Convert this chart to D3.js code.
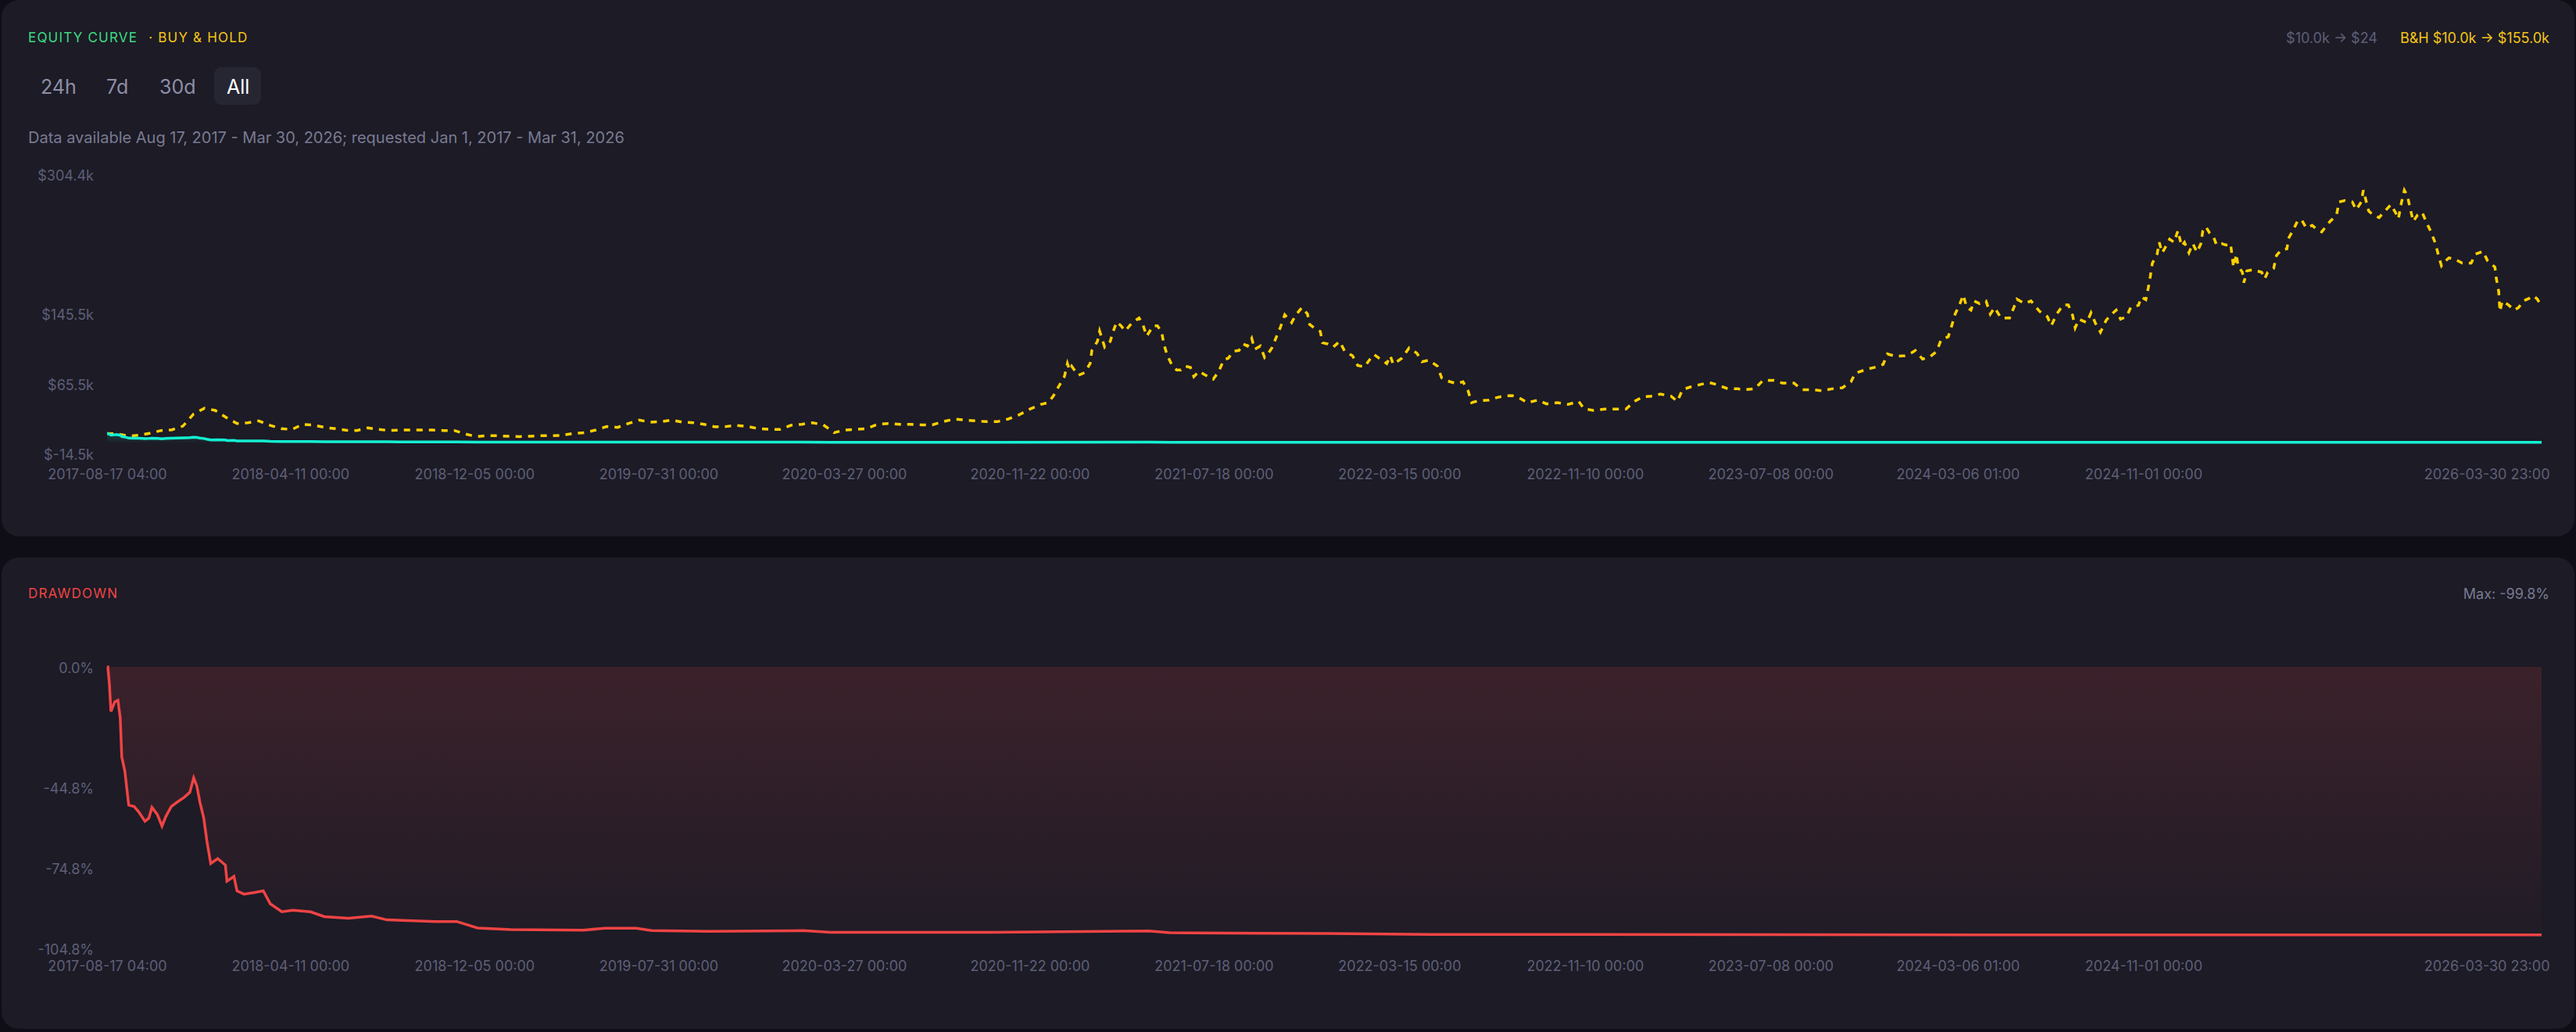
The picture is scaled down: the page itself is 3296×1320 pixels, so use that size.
<!DOCTYPE html>
<html>
<head>
<meta charset="utf-8">
<script src="https://cdn.jsdelivr.net/npm/d3@7"></script>
<style>
  html, body { margin: 0; padding: 0; background: #0f0e17; }
  svg { display: block; font-family: Inter, "Noto Sans", sans-serif; }
</style>
</head>
<body>
<svg id="chart"></svg>
<script>
// ---- data ----
const startTime = "2017-08-17 04:00";
const endTime = "2026-03-30 23:00";

const xTickLabels = [
  "2017-08-17 04:00", "2018-04-11 00:00", "2018-12-05 00:00", "2019-07-31 00:00",
  "2020-03-27 00:00", "2020-11-22 00:00", "2021-07-18 00:00", "2022-03-15 00:00",
  "2022-11-10 00:00", "2023-07-08 00:00", "2024-03-06 01:00", "2024-11-01 00:00",
  "2026-03-30 23:00"
];
const equityTicks = [304.4, 145.5, 65.5, -14.5];   // $k
const drawdownTicks = [0, -44.8, -74.8, -104.8];   // %
const rangeButtons = ["24h", "7d", "30d", "All"];

// buy & hold: days since startTime, value in $k
const bhDays = [
  0, 14, 28, 42, 56, 70, 84, 98, 112, 126,
  140, 154, 168, 182, 196, 211, 225, 239, 253, 267,
  281, 295, 309, 323, 337, 351, 365, 379, 393, 407,
  421, 435, 449, 463, 477, 491, 505, 519, 533, 547,
  561, 575, 589, 603, 618, 632, 646, 660, 674, 688,
  702, 716, 730, 744, 758, 772, 786, 800, 814, 828,
  842, 856, 870, 884, 898, 912, 926, 940, 954, 968,
  982, 996, 1010, 1025, 1039, 1053, 1067, 1081, 1095, 1109,
  1123, 1137, 1151, 1165, 1179, 1193, 1207,
  1216.8, 1223.4, 1230.6, 1237.8, 1241.7, 1244.5, 1247.2, 1255.6, 1263.9, 1271.1,
  1273.3, 1280.5, 1283.3, 1289.9, 1297.1, 1299.9, 1305.4, 1311.0, 1316.5, 1324.8,
  1334.3, 1338.7, 1344.2, 1352.6, 1358.1, 1363.6, 1366.4, 1370.9, 1376.4, 1383.0,
  1388.6, 1394.1, 1400.8, 1405.2, 1411.9, 1419.1, 1430.2, 1437.4, 1444.0, 1449.6,
  1456.2, 1463.4, 1469.0, 1474.5, 1480.0, 1483.9, 1491.1, 1496.7, 1500.5, 1506.1,
  1511.6, 1517.2, 1522.7, 1531.6, 1537.1, 1544.9, 1552.1, 1554.9, 1561.5, 1568.7,
  1571.5, 1578.2, 1585.4, 1593.7, 1600.3, 1610.3, 1617.0, 1625.8, 1632.5, 1638.0,
  1646.3, 1654.6, 1659.1, 1663.0, 1674.0, 1683.5, 1693.5, 1700.1, 1709.0, 1720.1,
  1725.6,
  1731.0, 1744.9, 1753.2, 1759.8, 1764.3, 1772.6, 1786.4, 1797.5, 1805.8, 1816.9,
  1828.0, 1836.3, 1850.2, 1861.3, 1875.1, 1889.0, 1902.8, 1909.5, 1922.2, 1936.1,
  1949.9, 1963.8, 1974.9, 1986.0, 1999.9, 2008.2, 2022.0, 2030.3, 2037.0, 2047.0,
  2060.8, 2071.9, 2080.2, 2094.1, 2107.9, 2119.0, 2130.1, 2141.2, 2155.0, 2166.1,
  2181.1, 2191.1, 2204.9, 2217.7, 2229.9, 2243.7, 2254.8, 2260.4, 2274.2, 2285.3,
  2296.4, 2301.9, 2313.0, 2324.1, 2332.4, 2338.0, 2347.4, 2357.4, 2365.7, 2371.2,
  2380.6, 2385.1, 2389.5, 2395.1, 2400.0, 2404.5, 2410.0, 2413.9, 2421.1, 2429.4,
  2435.0, 2440.5, 2448.8, 2459.9, 2465.4, 2469.3, 2479.3, 2487.6, 2498.7, 2508.7,
  2513.7, 2520.9, 2529.2, 2535.8, 2541.4, 2544.7, 2549.7, 2559.7, 2565.2, 2570.8,
  2577.4, 2584.6, 2590.2,
  2597.7, 2603.4, 2611.1, 2616.9, 2626.5, 2630.3, 2636.1, 2639.2, 2641.9, 2644.5,
  2650.7, 2653.4, 2657.2, 2661.1, 2666.8, 2672.6, 2677.6, 2682.2, 2686.0, 2691.8,
  2696.8, 2702.2, 2707.2, 2709.8, 2713.7, 2718.7, 2723.7, 2727.5, 2734.0, 2739.8,
  2745.6, 2747.5, 2749.4, 2753.2, 2755.2, 2760.9, 2762.8, 2766.7, 2774.4, 2780.1,
  2785.9, 2789.7, 2793.6, 2801.3, 2805.1, 2810.9, 2818.5, 2820.5, 2826.2, 2832.8,
  2837.7, 2843.5, 2851.2, 2856.9, 2863.5, 2874.2, 2882.7, 2885.8, 2893.4, 2903.0,
  2908.0, 2914.6, 2917.3, 2924.2, 2929.9, 2937.6, 2945.3, 2953.0, 2958.7, 2962.6,
  2966.4, 2970.3, 2974.1, 2977.9, 2981.8, 2987.5, 2993.3, 2999.1, 3004.8, 3010.6,
  3014.4, 3018.3, 3022.1, 3027.9, 3035.6, 3045.2, 3056.7, 3062.4, 3072.0, 3077.8,
  3087.4, 3089.3, 3092.4, 3093.9, 3097.0, 3104.7, 3112.4, 3118.1, 3123.9, 3131.6,
  3137.3, 3142.3, 3147.8
];
const bhValues = [
  10.0, 9.6, 7.2, 8.1, 10.5, 13.5, 14.4, 18.5, 32.5, 39.0,
  36.4, 28.4, 21.5, 22.4, 24.5, 19.4, 15.6, 14.7, 20.6, 19.7,
  17.1, 15.6, 13.8, 13.5, 16.5, 14.7, 13.5, 14.1, 14.1, 14.1,
  14.1, 13.5, 13.5, 9.6, 6.6, 7.5, 7.5, 6.9, 6.6, 6.9,
  7.5, 7.5, 8.1, 10.2, 11.1, 14.1, 18.0, 17.1, 21.5, 25.4,
  23.0, 23.6, 25.4, 23.0, 22.4, 20.6, 17.7, 18.0, 19.4, 18.2,
  15.6, 15.0, 14.7, 19.4, 20.6, 22.4, 20.0, 11.1, 14.1, 14.7,
  15.6, 20.6, 21.5, 20.6, 20.6, 20.0, 20.0, 23.6, 26.6, 25.4,
  24.5, 23.6, 23.6, 26.6, 31.3, 37.9, 43.3,
  45.3, 52.8, 64.1, 75.1, 90.0, 82.6, 87.0, 76.6, 79.6, 90.0,
  104.9, 115.3, 127.2, 108.8, 115.3, 124.3, 137.7, 133.2, 127.2, 136.2,
  142.1, 136.2, 121.3, 133.2, 133.2, 125.8, 112.4, 99.0, 89.1, 82.6,
  82.6, 87.0, 85.6, 75.1, 81.1, 77.2, 72.1, 81.1, 94.5, 96.0,
  104.0, 104.9, 112.4, 110.0, 118.9, 106.4, 110.0, 96.9, 100.4, 107.9,
  119.8, 131.7, 145.7, 136.8, 145.7, 154.0, 146.6, 134.7, 130.2, 126.6,
  113.8, 112.4, 108.8, 115.3, 104.0, 99.0, 87.9, 86.2, 94.5, 100.4,
  95.1, 90.0, 99.0, 89.1, 96.0, 107.9, 101.9, 92.1, 93.9, 87.0,
  73.6,
  70.7, 67.1, 69.2, 58.8, 45.3, 47.4, 48.3, 51.3, 52.8, 53.4,
  49.8, 45.3, 48.3, 43.9, 45.3, 43.3, 46.8, 38.5, 36.4, 37.9,
  37.9, 37.9, 46.8, 52.2, 52.8, 55.2, 52.8, 46.8, 60.2, 63.2,
  66.2, 68.3, 66.2, 61.7, 61.1, 60.2, 61.1, 70.7, 70.7, 67.7,
  67.7, 60.2, 60.2, 58.8, 61.1, 62.3, 69.2, 79.0, 83.2, 85.6,
  89.1, 101.0, 98.1, 99.0, 101.9, 104.9, 95.1, 98.1, 104.0, 116.8,
  120.7, 133.2, 146.6, 157.0, 168.3, 154.0, 151.1, 161.5, 158.5, 161.5,
  146.6, 154.0, 142.1, 142.1, 154.0, 163.6, 158.5, 161.5, 149.6, 143.6,
  133.2, 146.6, 157.0, 157.0, 145.1, 130.8, 140.6, 136.8, 148.1, 136.2,
  125.8, 139.2, 145.1,
  151.1, 140.7, 143.7, 154.7, 156.5, 166.0, 163.0, 176.4, 189.8, 204.7,
  215.1, 228.5, 216.6, 222.6, 232.1, 228.5, 241.9, 224.1, 228.5, 216.6,
  227.0, 217.2, 227.0, 241.9, 246.4, 238.9, 234.5, 225.5, 227.0, 225.5,
  227.0, 213.6, 200.2, 215.1, 201.7, 194.3, 182.4, 195.8, 197.3, 195.8,
  194.3, 186.8, 194.3, 198.7, 213.6, 219.6, 221.1, 233.0, 241.9, 253.8,
  253.8, 244.9, 247.9, 243.4, 240.4, 252.4, 259.8, 274.7, 276.2, 274.7,
  265.7, 274.7, 288.1, 264.3, 259.8, 256.8, 264.3, 271.7, 262.8, 255.3,
  273.2, 288.1, 282.1, 267.2, 252.4, 259.8, 262.8, 250.9, 240.4, 227.0,
  213.6, 201.7, 206.2, 210.7, 209.2, 204.7, 204.7, 215.1, 218.1, 207.6,
  200.2, 186.8, 171.9, 149.6, 161.5, 157.1, 151.1, 154.1, 161.5, 164.5,
  167.5, 163.6, 155.0
];

// strategy: days since startTime, drawdown %, equity $k
const ddDays = [
  0, 1, 3, 5, 10, 14, 17, 19, 23, 28,
  35, 41, 49, 54, 58, 65, 71, 76, 83, 91,
  100, 107, 112, 116, 120, 125, 129, 134, 143, 153,
  155, 164, 168, 177, 191, 202, 211, 226, 240, 263,
  281, 312, 342, 362, 425, 452, 479, 522, 616, 644,
  684, 704, 779, 900, 935, 1145, 1347, 1374, 1497, 1577,
  1713, 2590, 3147.8
];
const drawdown = [
  0, 0, -6.4, -16.6, -13.0, -12.4, -19.0, -33.5, -38.9, -51.5,
  -52.0, -54.0, -57.5, -56.3, -52.3, -55.0, -59.3, -55.7, -52.0, -50.3,
  -48.5, -46.7, -41.3, -44.3, -50.3, -56.3, -64.7, -73.2, -71.4, -73.8,
  -79.8, -78.0, -83.4, -84.6, -84.0, -83.4, -88.2, -91.2, -90.6, -91.2,
  -93.0, -93.6, -92.8, -94.2, -94.8, -94.8, -97.2, -97.8, -98.0, -97.3,
  -97.3, -98.2, -98.5, -98.2, -98.8, -98.8, -98.3, -99.0, -99.2, -99.3,
  -99.6, -99.8, -99.8
];
const equity = [
  10.0, 10.0, 9.36, 8.34, 8.70, 8.76, 8.10, 6.65, 6.11, 4.85,
  4.80, 4.60, 4.25, 4.37, 4.77, 4.50, 4.07, 4.43, 4.80, 4.97,
  5.15, 5.33, 5.87, 5.57, 4.97, 4.37, 3.53, 2.68, 2.86, 2.62,
  2.02, 2.20, 1.66, 1.54, 1.60, 1.66, 1.18, 0.88, 0.94, 0.88,
  0.70, 0.64, 0.72, 0.58, 0.52, 0.52, 0.28, 0.22, 0.20, 0.27,
  0.27, 0.18, 0.15, 0.18, 0.12, 0.12, 0.17, 0.10, 0.08, 0.07,
  0.04, 0.024, 0.024
];

// ---- layout ----
const W = 3296, H = 1320;
const plotLeft = 137, plotRight = 3252, textRight = 3262;
const colors = {
  page: "#0f0e17", card: "#1c1b26", button: "#262633",
  green: "#3ddc84", gold: "#f5c518", line: "#ffd000", cyan: "#14f0d2",
  red: "#ef4444", muted: "#5f5f78", sub: "#7a7a92", btn: "#8e8ea6"
};

const parse = d3.timeParse("%Y-%m-%d %H:%M");
const t0 = parse(startTime), t1 = parse(endTime);
const dayToDate = d => new Date(+t0 + d * 864e5);
const bhData = bhDays.map((d, i) => ({ date: dayToDate(d), value: bhValues[i] }));
const ddData = ddDays.map((d, i) => ({ date: dayToDate(d), dd: drawdown[i], eq: equity[i] }));
const tickDates = xTickLabels.map(parse);

const svg = d3.select("#chart").attr("width", W).attr("height", H);
const defs = svg.append("defs");

svg.append("rect").attr("width", W).attr("height", H).attr("fill", colors.page);
const cards = [{ y: 0, h: 686 }, { y: 713, h: 603 }];
svg.selectAll(".card").data(cards).enter().append("rect")
  .attr("class", "card")
  .attr("x", 2).attr("y", d => d.y)
  .attr("width", W - 4).attr("height", d => d.h)
  .attr("rx", 22).attr("fill", colors.card);

const x = d3.scaleTime().domain([t0, t1]).range([plotLeft, plotRight]);
const yEq = d3.scaleLinear().domain([-14.5, 304.4]).range([582, 225]);
const yDd = d3.scaleLinear().domain([-104.8, 0]).range([1213, 853]);

// ---- header texts ----
function label(txt, x0, y0, size, fill, anchor, spacing) {
  return svg.append("text").attr("x", x0).attr("y", y0)
    .attr("dominant-baseline", "central")
    .attr("text-anchor", anchor || "start")
    .attr("font-size", size).attr("fill", fill)
    .attr("letter-spacing", spacing || 0)
    .text(txt);
}

const title = svg.append("text").attr("x", 36).attr("y", 48)
  .attr("dominant-baseline", "central").attr("font-size", 17)
  .attr("letter-spacing", 1.2);
title.append("tspan").attr("fill", colors.green).text("EQUITY CURVE");
title.append("tspan").attr("fill", colors.gold).attr("dx", 14).text("· BUY & HOLD");

label("B&H $10.0k \u2192 $155.0k", textRight, 48, 18, colors.gold, "end");
label("$10.0k \u2192 $24", 3042, 48, 18, colors.muted, "end");

svg.append("rect").attr("x", 274).attr("y", 86).attr("width", 60).attr("height", 48)
  .attr("rx", 9).attr("fill", colors.button);
const btnX = [52, 136, 204, 290];
rangeButtons.forEach((b, i) => {
  label(b, btnX[i], 111, 25, b === "All" ? "#ffffff" : colors.btn);
});

label("Data available Aug 17, 2017 - Mar 30, 2026; requested Jan 1, 2017 - Mar 31, 2026",
  36, 176, 20, colors.sub);

label("DRAWDOWN", 36, 759, 17, colors.red, "start", 1.2);
label("Max: -99.8%", textRight, 759, 18, colors.sub, "end");

// ---- axes ----
function styleAxis(g) {
  g.select(".domain").remove();
  g.selectAll("text").attr("fill", colors.muted).attr("font-size", 18)
    .attr("font-family", "Inter, 'Noto Sans', sans-serif");
}

function drawXAxis(yText) {
  const g = svg.append("g")
    .call(d3.axisBottom(x).tickValues(tickDates).tickSize(0)
      .tickFormat((d, i) => xTickLabels[i]))
    .call(styleAxis);
  g.selectAll(".tick text").attr("y", yText).attr("dy", "0.35em")
    .each(function(d) {
      const w = this.getComputedTextLength();
      const shift = Math.min(0, textRight - (x(d) + w / 2));
      d3.select(this).attr("dx", shift);
    });
}

svg.append("g").attr("transform", `translate(${plotLeft},0)`)
  .call(d3.axisLeft(yEq).tickValues(equityTicks).tickSize(0).tickPadding(17)
    .tickFormat(d => "$" + d.toFixed(1) + "k"))
  .call(styleAxis);
drawXAxis(607);

svg.append("g").attr("transform", `translate(${plotLeft},2)`)
  .call(d3.axisLeft(yDd).tickValues(drawdownTicks).tickSize(0).tickPadding(17)
    .tickFormat(d => d.toFixed(1) + "%"))
  .call(styleAxis);
drawXAxis(1236);

// ---- equity panel ----
const gradEq = defs.append("linearGradient").attr("id", "eqFill")
  .attr("gradientUnits", "userSpaceOnUse")
  .attr("x1", 0).attr("x2", 0).attr("y1", yEq(10)).attr("y2", yEq(0));
gradEq.append("stop").attr("offset", 0).attr("stop-color", colors.cyan).attr("stop-opacity", 0.18);
gradEq.append("stop").attr("offset", 1).attr("stop-color", colors.cyan).attr("stop-opacity", 0.02);

svg.append("path").datum(ddData)
  .attr("fill", "url(#eqFill)")
  .attr("d", d3.area().x(d => x(d.date)).y0(yEq(0)).y1(d => yEq(d.eq)));

svg.append("path").datum(bhData)
  .attr("fill", "none").attr("stroke", colors.line)
  .attr("stroke-width", 3.5).attr("stroke-dasharray", "8,8")
  .attr("d", d3.line().x(d => x(d.date)).y(d => yEq(d.value)));

svg.append("path").datum(ddData)
  .attr("fill", "none").attr("stroke", colors.cyan).attr("stroke-width", 3.5)
  .attr("d", d3.line().x(d => x(d.date)).y(d => yEq(d.eq)));

// ---- drawdown panel ----
const gradDd = defs.append("linearGradient").attr("id", "ddFill")
  .attr("gradientUnits", "userSpaceOnUse")
  .attr("x1", 0).attr("x2", 0).attr("y1", yDd(0)).attr("y2", yDd(-99.8));
gradDd.append("stop").attr("offset", 0).attr("stop-color", colors.red).attr("stop-opacity", 0.15);
gradDd.append("stop").attr("offset", 1).attr("stop-color", colors.red).attr("stop-opacity", 0.02);

svg.append("path").datum(ddData)
  .attr("fill", "url(#ddFill)")
  .attr("d", d3.area().x(d => x(d.date)).y0(yDd(0)).y1(d => yDd(d.dd)));

svg.append("path").datum(ddData)
  .attr("fill", "none").attr("stroke", colors.red).attr("stroke-width", 3.5)
  .attr("d", d3.line().x(d => x(d.date)).y(d => yDd(d.dd)));
</script>
</body>
</html>
